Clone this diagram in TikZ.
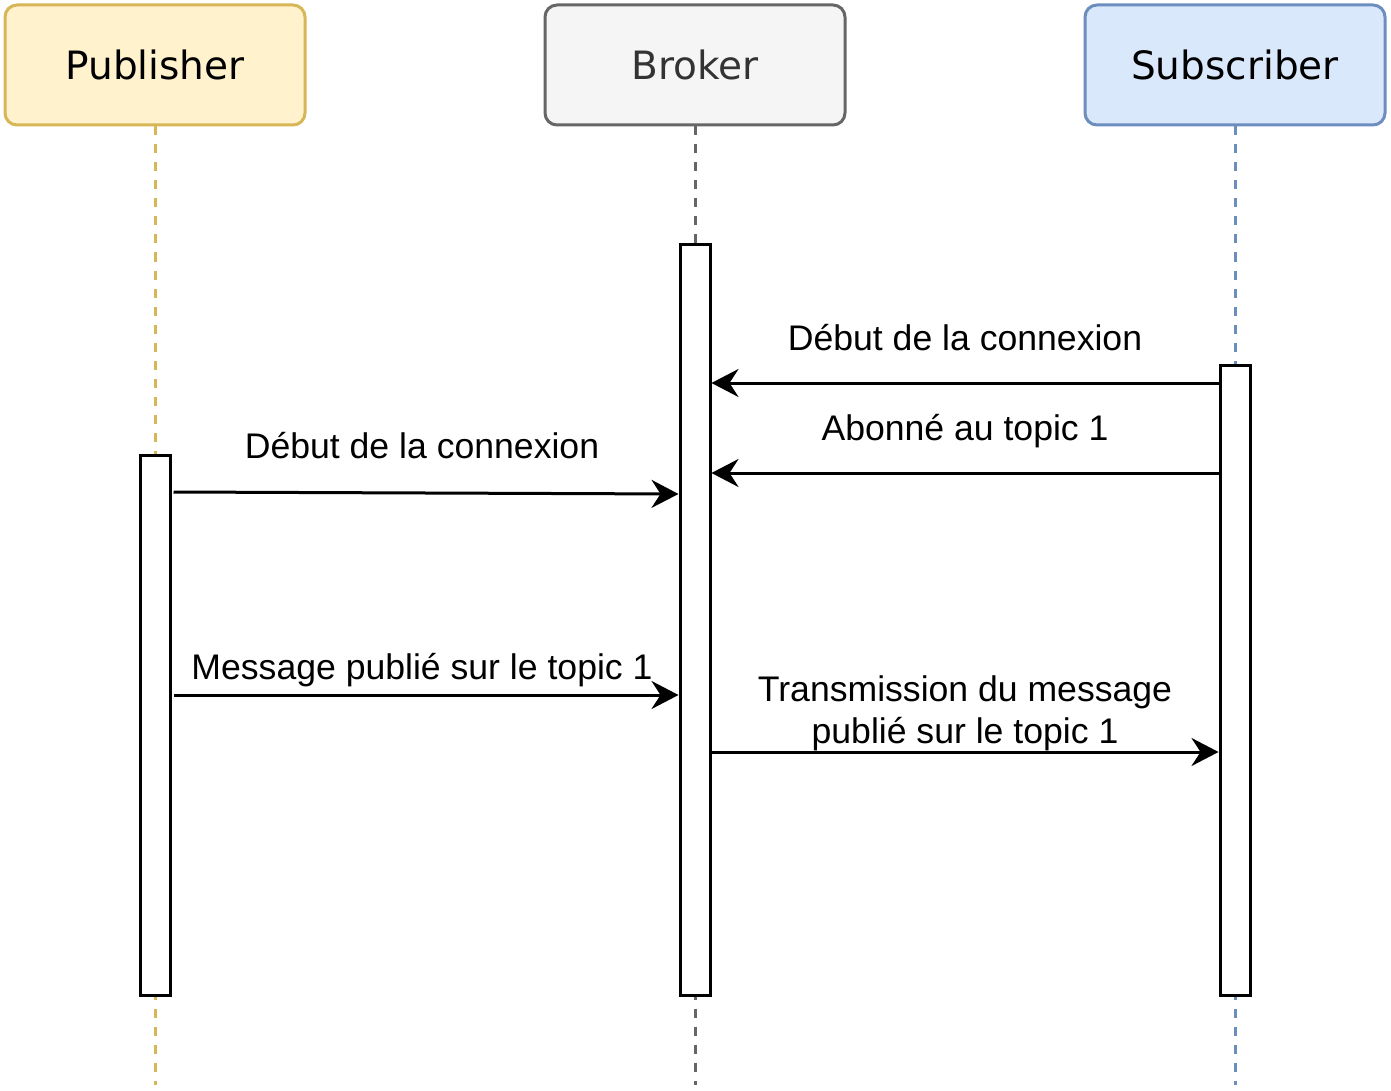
\documentclass[tikz,border=0pt]{standalone}
\usepackage{fontspec}
\setmainfont{Liberation Sans}
\newfontfamily\hdrfont{DejaVu Sans}
\usetikzlibrary{arrows.meta}
\definecolor{pubfill}{HTML}{FFF2CC}
\definecolor{publine}{HTML}{D6B656}
\definecolor{brkfill}{HTML}{F5F5F5}
\definecolor{brkline}{HTML}{666666}
\definecolor{brktext}{HTML}{333333}
\definecolor{subfill}{HTML}{DAE8FC}
\definecolor{subline}{HTML}{6C8EBF}
\tikzset{
  actor/.style={draw, line width=1.5pt, rounded corners=6pt, minimum width=150pt,
    minimum height=60pt, inner sep=0pt, font=\hdrfont\fontsize{19.5}{23}\selectfont},
  lifeline/.style={line width=1.5pt, dash pattern=on 4.5pt off 4.5pt},
  actbar/.style={draw, fill=white, line width=1.5pt, minimum width=15pt, inner sep=0pt},
  msg/.style={line width=1.5pt, -{Stealth[length=13.5pt, width=14pt, inset=4.5pt]}},
  lbl/.style={anchor=base, inner sep=0pt, font=\fontsize{17.8}{21}\selectfont}
}
\begin{document}
\begin{tikzpicture}[x=0.5pt, y=-0.5pt]
      \useasboundingbox (0,0) rectangle (1391,1091);
      \node[actor, fill=pubfill, draw=publine] (pub) at (155,65) {Publisher};
      \node[actor, fill=brkfill, draw=brkline, text=brktext] (brk) at (695,65) {Broker};
      \node[actor, fill=subfill, draw=subline] (sub) at (1235,65) {Subscriber};
      \coordinate (pubend) at (155,1085);
      \coordinate (brkend) at (695,1085);
      \coordinate (subend) at (1235,1085);
      \begin{scope}[lifeline]
        \draw[publine] (pub.south) -- (pubend);
        \draw[brkline] (brk.south) -- (brkend);
        \draw[subline] (sub.south) -- (subend);
      \end{scope}
      \node[actbar, minimum height=270pt] (pubact) at (155,725) {};
      \node[actbar, minimum height=375pt] (brkact) at (695,620) {};
      \node[actbar, minimum height=315pt] (subact) at (1235,680) {};
      \begin{scope}[msg]
        \draw (subact.west |- 0,383) -- (brkact.east |- 0,383);
        \draw (subact.west |- 0,473) -- (brkact.east |- 0,473);
        \draw ([xshift=1pt]pubact.east |- 0,492) -- (brkact.west |- 0,494);
        \draw ([xshift=1pt]pubact.east |- 0,695) -- (brkact.west |- 0,695);
        \draw (brkact.east |- 0,752) -- (subact.west |- 0,752);
      \end{scope}
      \node[lbl] (l1) at (965,350) {Début de la connexion};
      \node[lbl] (l2) at (965,440) {Abonné au topic 1};
      \node[lbl] (l3) at (422,458) {Début de la connexion};
      \node[lbl] (l4) at (422,679) {Message publié sur le topic 1};
      \node[lbl] (l5a) at (965,701) {Transmission du message};
      \node[lbl] (l5b) at (965,743) {publié sur le topic 1};
    \end{tikzpicture}
\end{document}
